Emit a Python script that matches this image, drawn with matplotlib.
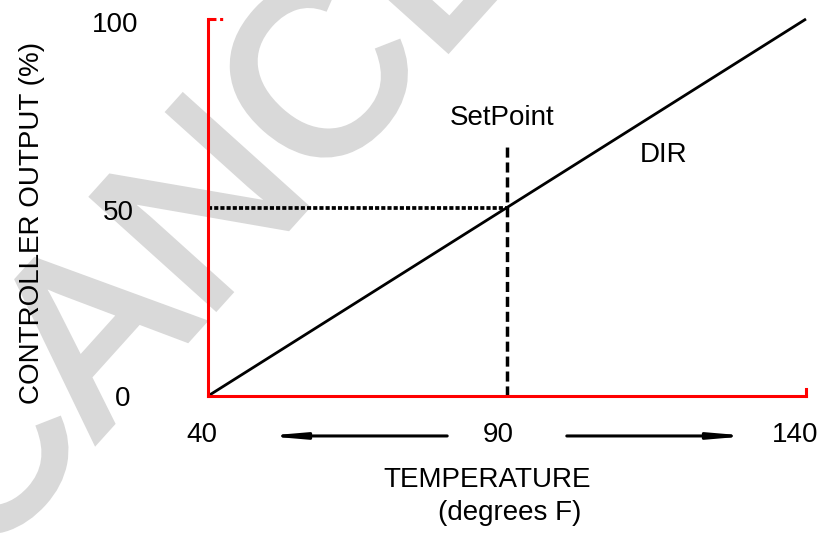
import matplotlib
matplotlib.use('Agg')
import matplotlib.pyplot as plt
import matplotlib.patheffects as pe
from matplotlib.transforms import offset_copy

# -------------------------------------------------
# Chart data
# -------------------------------------------------
temperature = [40, 140]          # degrees F
controller_output = [0, 100]     # percent, direct acting
setpoint_temp = 90
setpoint_output = 50
setpoint_marker_top = 66         # top of the dashed setpoint marker

x_ticks = [40, 90, 140]
y_ticks = [0, 50, 100]

arrow_left = (80, 49.5)          # from, to (degrees F)
arrow_right = (100, 130.5)
arrow_level = -10.6

plt.rcParams['font.family'] = ['Liberation Sans', 'DejaVu Sans']
FS = 20
RED = '#ff0000'
WM_GRAY = '#d9d9d9'

fig = plt.figure(figsize=(8.18, 5.33), dpi=100)

# watermark, behind everything (stroked a little to thicken the letters)
fig.text(462 / 818, 1 - 34 / 533, 'CANCELLED', fontsize=173, color=WM_GRAY,
         rotation=48, rotation_mode='anchor',
         ha='center', va='baseline', zorder=-1,
         path_effects=[pe.withStroke(linewidth=5, foreground=WM_GRAY,
                                     joinstyle='miter', capstyle='butt')])

ax = fig.add_axes([208 / 818, 1 - 396 / 533, 598 / 818, 377 / 533])
ax.patch.set_alpha(0)
ax.set_xlim(temperature[0], temperature[1])
ax.set_ylim(controller_output[0], controller_output[1])
for side in ['top', 'right']:
    ax.spines[side].set_visible(False)
for side in ['left', 'bottom']:
    ax.spines[side].set_color(RED)
    ax.spines[side].set_linewidth(2.2)
    ax.spines[side].set_capstyle('projecting')
ax.set_xticks([])
ax.set_yticks([])

# small red stubs at the axis ends
ax.plot([40, 42.6], [100, 100], color=RED, lw=2.2, clip_on=False,
        linestyle=(0, (2.6, 1.2, 1.0, 5)), solid_capstyle='butt')
ax.plot([140, 140], [0, 1.9], color=RED, lw=2.2, clip_on=False)

# controller line
ax.plot(temperature, controller_output, color='black', lw=2.0,
        clip_on=False, solid_capstyle='butt')

# setpoint markers
ax.plot([temperature[0], setpoint_temp], [setpoint_output, setpoint_output],
        color='black', lw=2.7, linestyle=(0, (1.1, 0.55)), clip_on=False)
ax.plot([setpoint_temp, setpoint_temp], [controller_output[0], setpoint_marker_top],
        color='black', lw=2.5, linestyle=(0, (2.9, 1.4)), clip_on=False)

ax.text(89.2, 71.9, 'SetPoint', fontsize=FS, ha='center', va='baseline')
ax.text(116.1, 62.1, 'DIR', fontsize=FS, ha='center', va='baseline')

# tick labels (nudged left as in the original drawing)
x_nudge = [-6, -9, -11]
for t, dx in zip(x_ticks, x_nudge):
    tr = offset_copy(ax.get_xaxis_transform(), fig=fig, x=dx, y=-39, units='dots')
    ax.text(t, 0, str(t), transform=tr, fontsize=FS, ha='center',
            va='center', clip_on=False)
y_nudge = [(-85, -3), (-90, -5), (-93, -6)]
for v, (dx, dy) in zip(y_ticks, y_nudge):
    tr = offset_copy(ax.get_yaxis_transform(), fig=fig, x=dx, y=dy, units='dots')
    ax.text(0, v, str(v), transform=tr, fontsize=FS, ha='center',
            va='center', clip_on=False)

# direction arrows under the axis
arrow_style = dict(arrowstyle='-|>,head_length=2.0,head_width=0.17',
                   mutation_scale=10, lw=2.2, color='black',
                   shrinkA=0, shrinkB=0)
for a in [arrow_left, arrow_right]:
    ax.annotate('', xy=(a[1], arrow_level), xytext=(a[0], arrow_level),
                xycoords='data', annotation_clip=False, arrowprops=arrow_style)

# axis titles
fig.text(487 / 818, 1 - 487 / 533, 'TEMPERATURE', fontsize=FS,
         ha='center', va='baseline')
fig.text(510 / 818, 1 - 520 / 533, '(degrees F)', fontsize=FS,
         ha='center', va='baseline')
fig.text(39 / 818, 1 - 223 / 533, 'CONTROLLER OUTPUT (%)', fontsize=FS,
         rotation=90, rotation_mode='anchor', ha='center', va='baseline')

fig.savefig('out.png', dpi=100)
